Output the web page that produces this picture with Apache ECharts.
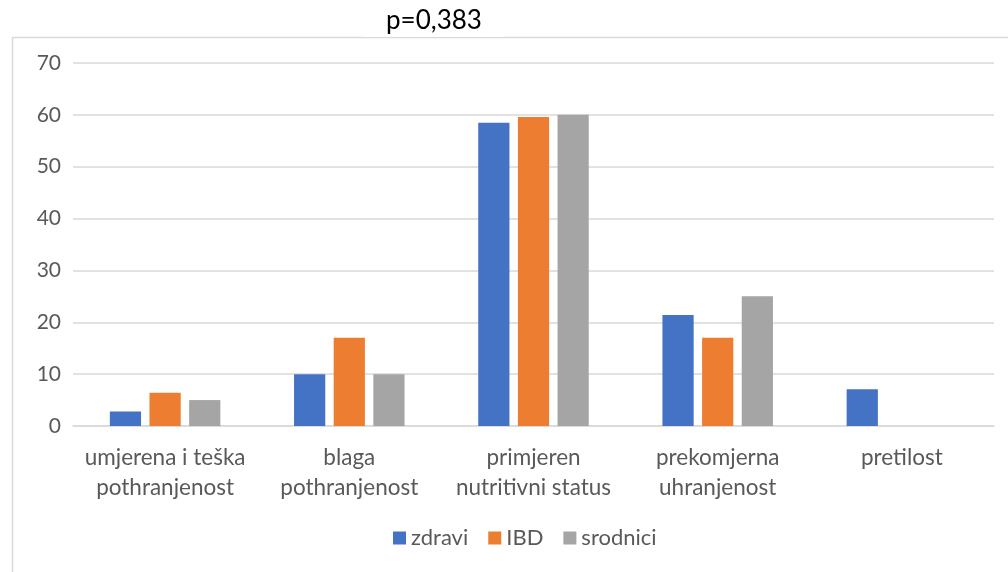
<!DOCTYPE html>
<html><head><meta charset="utf-8">
<script src="https://cdn.jsdelivr.net/npm/echarts@6/dist/echarts.min.js"></script>
<style>html,body{margin:0;padding:0;background:#fff}#c{width:1008px;height:572px}</style>
</head><body><div id="c"></div>
<script>
const categories = ['umjerena i teška\npothranjenost', 'blaga\npothranjenost', 'primjeren\nnutritivni status', 'prekomjerna\nuhranjenost', 'pretilost'];
const zdravi = [2.8, 10, 58.5, 21.4, 7.1];
const ibd = [6.4, 17, 59.6, 17, 0];
const srodnici = [5, 10, 60, 25, 0];
const seriesNames = ['zdravi', 'IBD', 'srodnici'];
const colors = ['#4472c4', '#ed7d31', '#a5a5a5'];
const font = 'Lato, "Liberation Sans", sans-serif';

const chart = echarts.init(document.getElementById('c'));
chart.setOption({
  animation: false,
  color: colors,
  textStyle: { fontFamily: font },
  graphic: [{
    type: 'rect', left: 10, top: 35, z: 0,
    shape: { width: 1010, height: 560 },
    style: { fill: 'none', stroke: '#d9d9d9', lineWidth: 1.5 }
  }],
  title: {
    text: 'p=0,383', left: 364, top: 5,
    backgroundColor: '#fff', padding: [3, 22, 3, 22],
    textStyle: { fontFamily: font, fontSize: 26, fontWeight: 'normal', color: '#000' }
  },
  legend: {
    data: seriesNames, bottom: 18, left: 388,
    icon: 'rect', itemWidth: 13, itemHeight: 13, itemGap: 20, itemTextGap: 6,
    textStyle: { fontFamily: font, fontSize: 22, color: '#595959' }
  },
  grid: { left: 73, right: 14, top: 63, bottom: 146 },
  xAxis: {
    type: 'category', data: categories,
    axisLine: { lineStyle: { color: '#d9d9d9', width: 1.5 } },
    axisTick: { show: false },
    axisLabel: { fontFamily: font, fontSize: 22.5, color: '#595959', lineHeight: 30, margin: 17, interval: 0 }
  },
  yAxis: {
    type: 'value', min: 0, max: 70, interval: 10,
    axisLine: { show: false }, axisTick: { show: false },
    splitLine: { lineStyle: { color: '#d9d9d9', width: 1.5 } },
    axisLabel: { fontFamily: font, fontSize: 21, color: '#595959', margin: 12 }
  },
  series: [
    { name: seriesNames[0], type: 'bar', data: zdravi, barGap: '27%', barCategoryGap: '40%' },
    { name: seriesNames[1], type: 'bar', data: ibd, barGap: '27%', barCategoryGap: '40%' },
    { name: seriesNames[2], type: 'bar', data: srodnici, barGap: '27%', barCategoryGap: '40%' }
  ]
});
</script></body></html>
